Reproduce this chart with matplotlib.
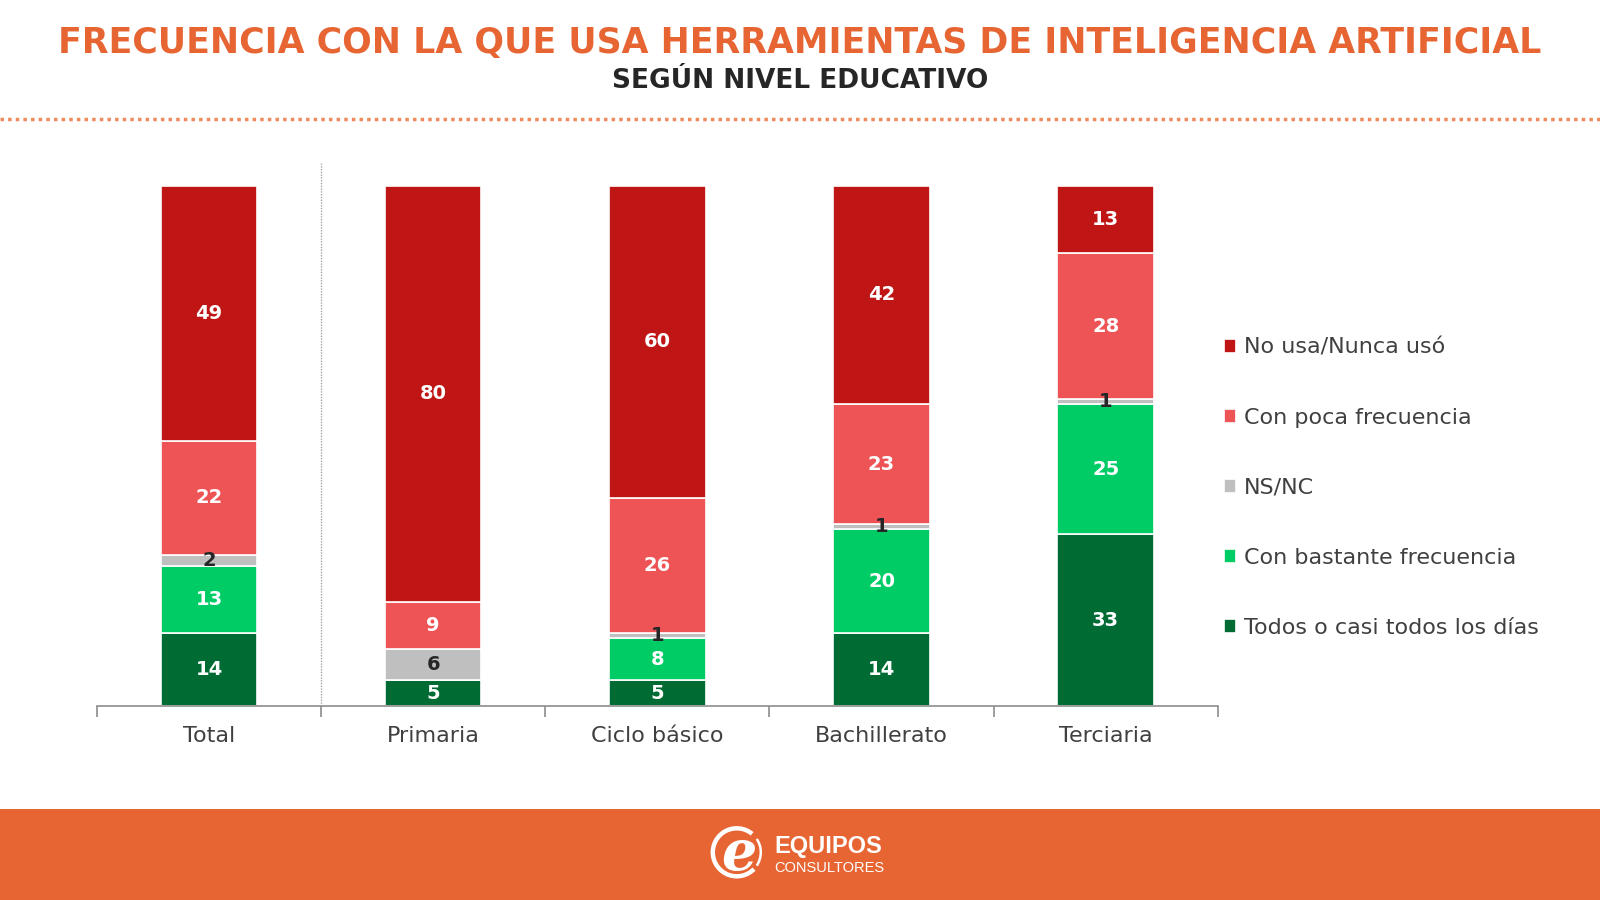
import numpy as np
import matplotlib
matplotlib.use("Agg")
import matplotlib.pyplot as plt
from matplotlib.patches import Rectangle, Arc
from matplotlib.lines import Line2D

# Data (percent), stacked bottom to top
categories = ["Total", "Primaria", "Ciclo básico", "Bachillerato", "Terciaria"]
todos = [14, 5, 5, 14, 33]
bastante = [13, 0, 8, 20, 25]
nsnc = [2, 6, 1, 1, 1]
poca = [22, 9, 26, 23, 28]
no_usa = [49, 80, 60, 42, 13]

series = [
    ("Todos o casi todos los días", todos, "#006B33", "white"),
    ("Con bastante frecuencia", bastante, "#00CC66", "white"),
    ("NS/NC", nsnc, "#BFBFBF", "#262626"),
    ("Con poca frecuencia", poca, "#EE5355", "white"),
    ("No usa/Nunca usó", no_usa, "#BF1515", "white"),
]

ORANGE = "#E66533"
plt.rcParams['font.family'] = ['DejaVu Sans']

fig = plt.figure(figsize=(16, 9), dpi=100)

# header
fig.text(0.5, 0.952, "FRECUENCIA CON LA QUE USA HERRAMIENTAS DE INTELIGENCIA ARTIFICIAL",
         ha="center", va="center", fontsize=25, fontweight="bold", color=ORANGE)
fig.text(0.5, 0.910, "SEGÚN NIVEL EDUCATIVO", ha="center", va="center",
         fontsize=19, fontweight="bold", color="#262626")
fig.add_artist(Line2D([0, 1], [0.868, 0.868], transform=fig.transFigure,
                      color="#EE8A5E", lw=2.5, linestyle=(0, (1, 1.2))))

# footer band
fig.add_artist(Rectangle((0, 0), 1, 0.101, transform=fig.transFigure,
                         facecolor=ORANGE, edgecolor="none"))
cx, cy, r = 0.4605, 0.053, 24
fig.add_artist(Arc((cx, cy), 2 * r / 1600, 2 * r / 900, theta1=-50, theta2=50,
                   transform=fig.transFigure, color="white", lw=1.8))
fig.add_artist(Arc((cx, cy), 2 * r / 1600, 2 * r / 900, theta1=65, theta2=300,
                   transform=fig.transFigure, color="white", lw=3.2))
fig.text(cx + 0.001, cy - 0.002, "e", ha="center", va="center", fontsize=40,
         fontstyle="italic", fontweight="bold", family="DejaVu Serif", color="white")
fig.text(0.484, 0.060, "EQUIPOS", ha="left", va="center", fontsize=17,
         fontweight="bold", family="Liberation Sans", color="white")
fig.text(0.484, 0.035, "CONSULTORES", ha="left", va="center", fontsize=10.5,
         family="Liberation Sans", color="white")

# chart
ax = fig.add_axes([0.0606, 0.2154, 0.7005, 0.5783])
x = np.arange(len(categories))
bottom = np.zeros(len(categories))
handles = {}
for name, vals, color, tcolor in series:
    vals = np.array(vals, dtype=float)
    bars = ax.bar(x, vals, 0.43, bottom=bottom, color=color,
                  edgecolor="white", linewidth=1.2, label=name)
    handles[name] = bars
    for xi, v, b in zip(x, vals, bottom):
        if v <= 0:
            continue
        lc = "#262626" if v < 2 else tcolor
        ax.text(xi, b + v / 2, f"{int(v)}", ha="center", va="center",
                fontsize=14, fontweight="bold", color=lc)
    bottom += vals

ax.set_xlim(-0.5, len(categories) - 0.5)
ax.set_ylim(0, 100)
for s in ["top", "right", "left"]:
    ax.spines[s].set_visible(False)
ax.spines["bottom"].set_color("#8C8C8C")
ax.spines["bottom"].set_linewidth(1.2)
ax.set_yticks([])
ax.set_xticks(x)
ax.set_xticklabels(categories, fontsize=16, color="#404040")
ax.tick_params(axis="x", which="major", length=0, pad=14)
ax.set_xticks(np.arange(-0.5, len(categories)), minor=True)
ax.tick_params(axis="x", which="minor", length=8, color="#8C8C8C", width=1.2)
ax.plot([0.5, 0.5], [0, 104.3], color="#A6A6A6", lw=1, linestyle=(0, (1, 1)),
        clip_on=False)

order = ["No usa/Nunca usó", "Con poca frecuencia", "NS/NC",
         "Con bastante frecuencia", "Todos o casi todos los días"]
fig.legend([handles[n] for n in order], order, loc="center left",
           bbox_to_anchor=(0.758, 0.458), frameon=False, fontsize=16,
           labelcolor="#404040", handlelength=0.55, handleheight=0.55,
           handletextpad=0.35, labelspacing=2.25, borderpad=0)

fig.savefig("out.png", dpi=100, facecolor="white")
